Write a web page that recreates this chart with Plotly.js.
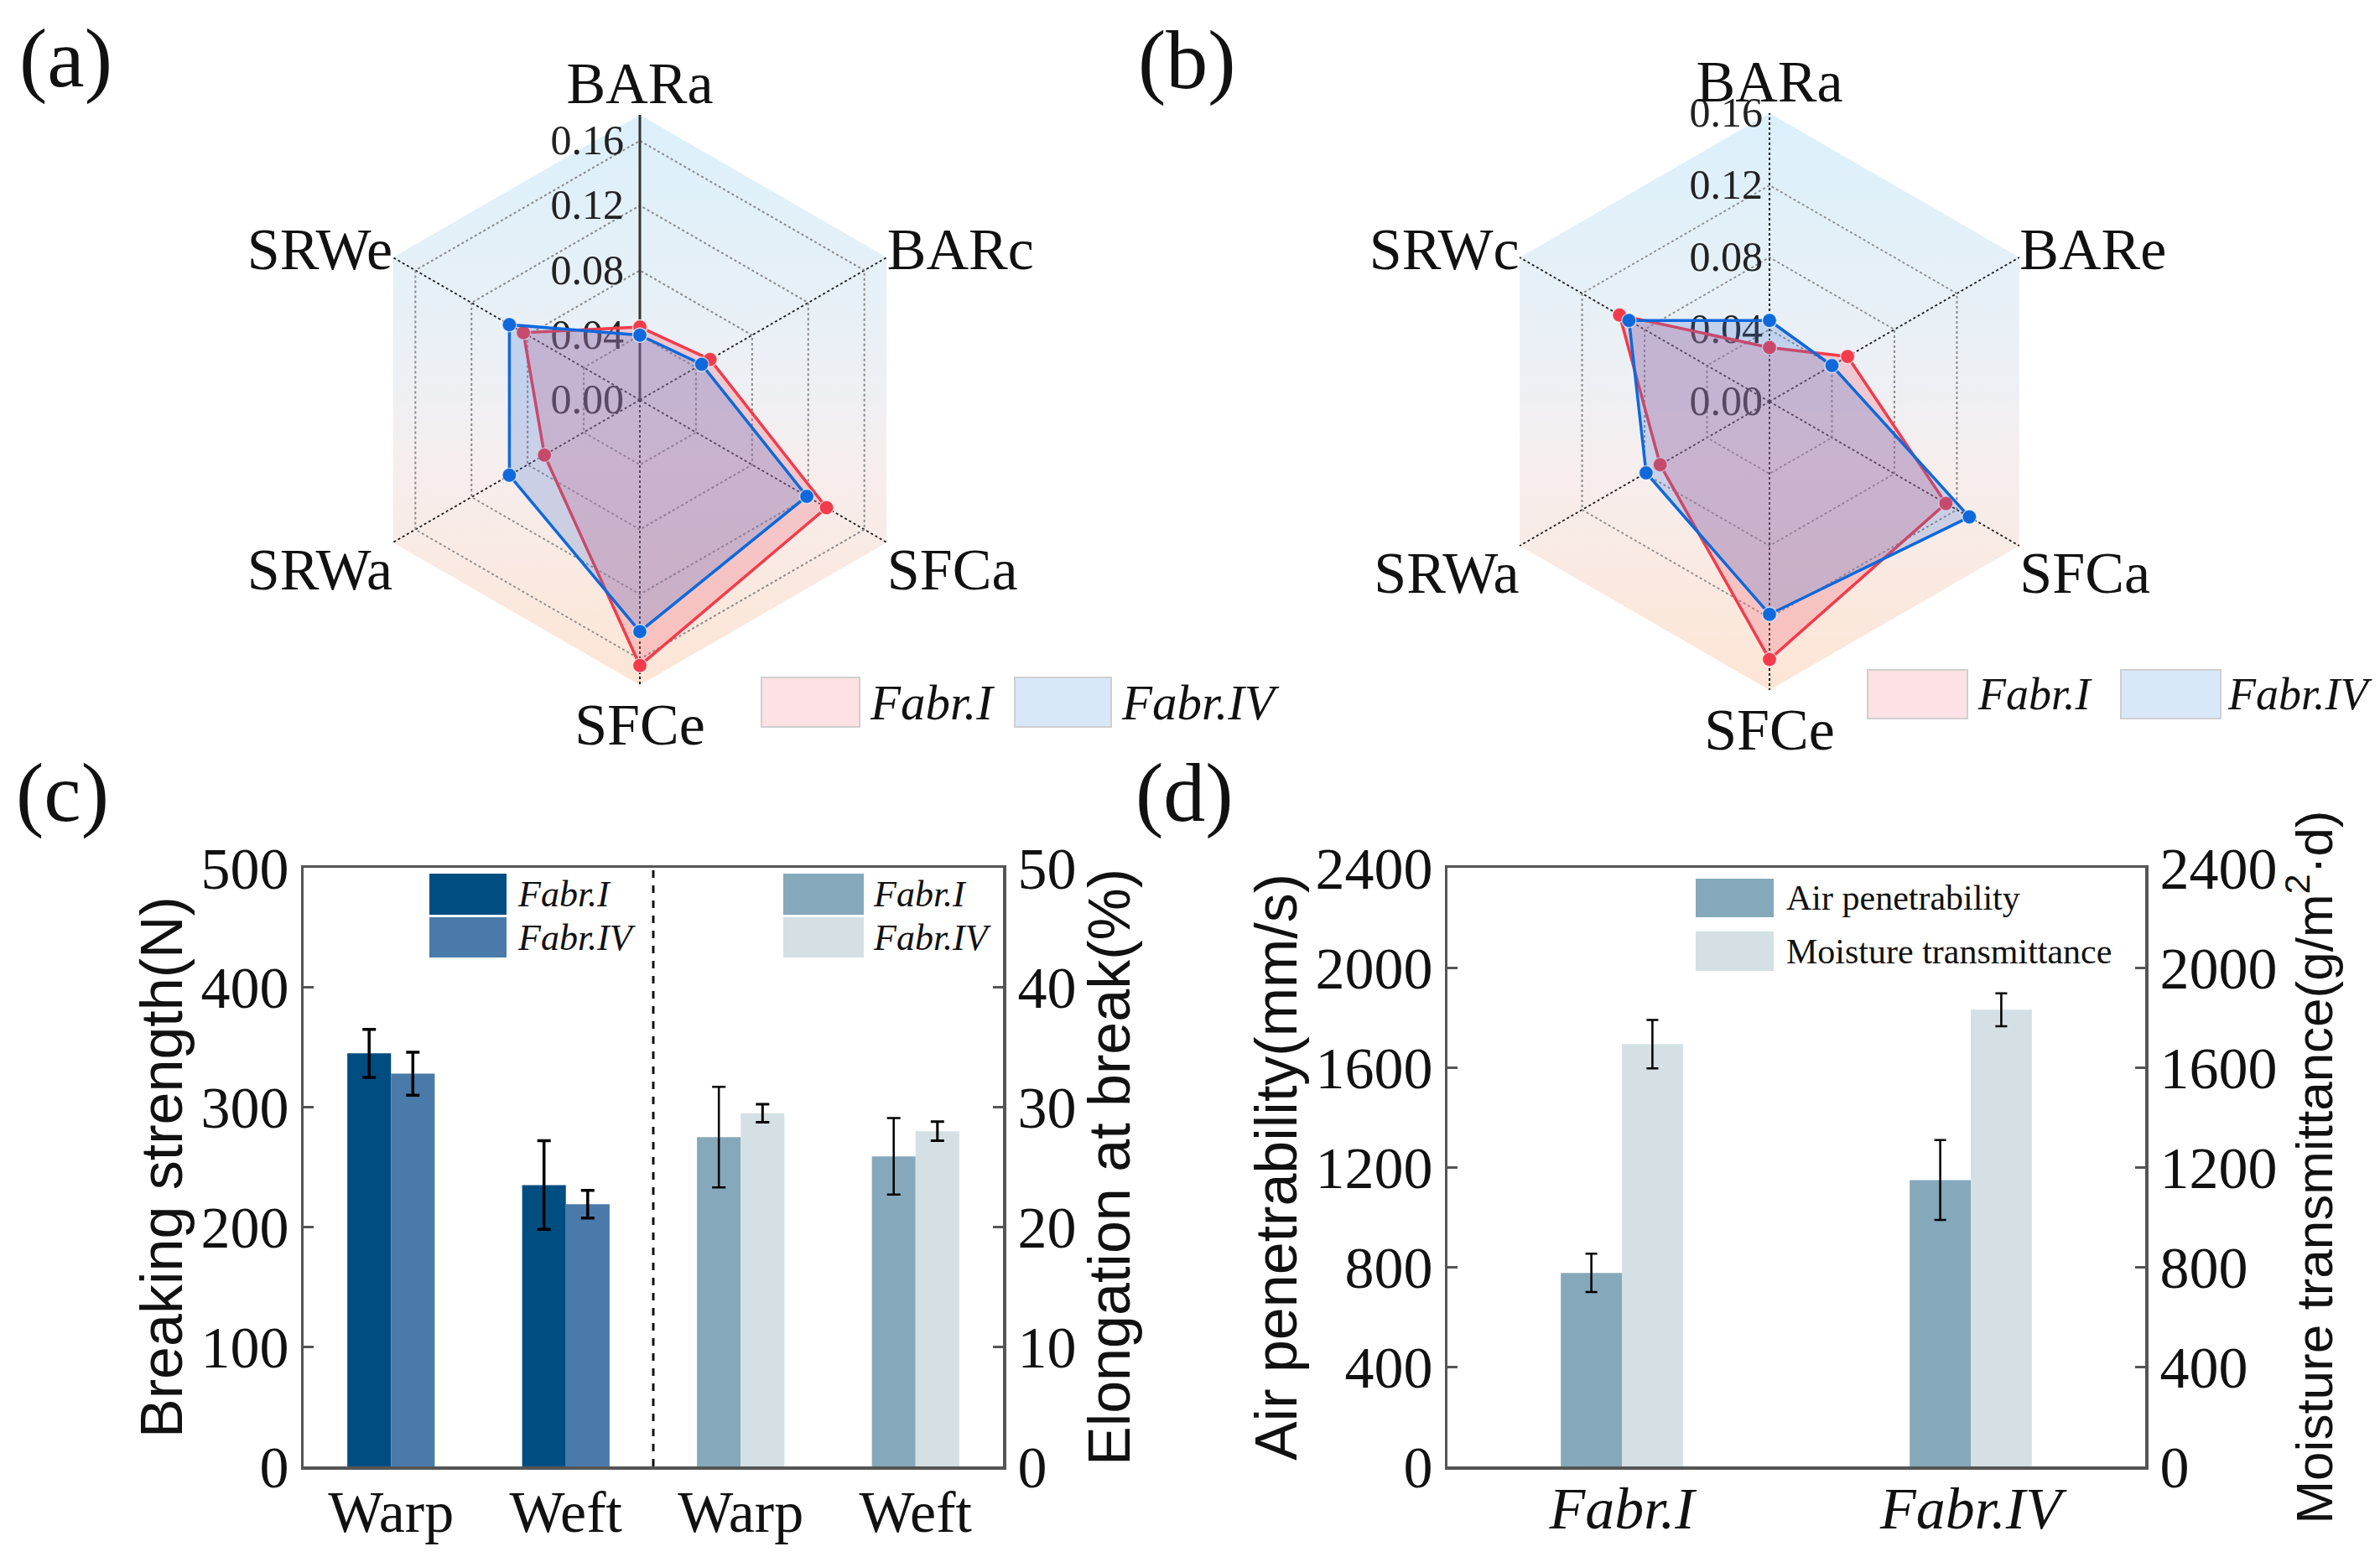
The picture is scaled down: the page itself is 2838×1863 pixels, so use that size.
<!DOCTYPE html>
<html>
<head>
<meta charset="utf-8">
<script src="https://cdn.plot.ly/plotly-3.0.1.min.js"></script>
<style>html,body{margin:0;padding:0;background:#fff;}</style>
</head>
<body>
<div id="chart" style="width:2838px;height:1863px;"></div>
<script>
// ---------------- DATA ----------------
// (a) radar
const radarACats = ['BARa', 'BARc', 'SFCa', 'SFCe', 'SRWa', 'SRWe'];
const radarAFabrI = [0.045, 0.050, 0.133, 0.164, 0.068, 0.083];
const radarAFabrIV = [0.040, 0.044, 0.119, 0.143, 0.093, 0.093];
// (b) radar
const radarBCats = ['BARa', 'BARe', 'SFCa', 'SFCe', 'SRWa', 'SRWc'];
const radarBFabrI = [0.030, 0.050, 0.113, 0.143, 0.070, 0.096];
const radarBFabrIV = [0.045, 0.040, 0.128, 0.118, 0.079, 0.090];
const radarTicks = [0, 0.04, 0.08, 0.12, 0.16];
const seriesNames = ['Fabr.I', 'Fabr.IV'];

// (c) breaking strength / elongation
const strengthCats = ['Warp', 'Weft'];
const elongCats = ['Warp', 'Weft'];
const strengthFabrI = [345, 235];
const strengthFabrIErr = [20, 37];
const strengthFabrIV = [328, 219];
const strengthFabrIVErr = [18, 11.5];
const elongFabrI = [27.5, 25.9];
const elongFabrIErr = [4.2, 3.2];
const elongFabrIV = [29.5, 28.0];
const elongFabrIVErr = [0.75, 0.8];
const strengthTicks = [0, 100, 200, 300, 400, 500];
const elongTicks = [0, 10, 20, 30, 40, 50];

// (d) air / moisture
const fabrCats = ['Fabr.I', 'Fabr.IV'];
const airVals = [776, 1148];
const airErr = [77, 160];
const moistVals = [1693, 1831];
const moistErr = [97, 66];
const airTicks = [0, 400, 800, 1200, 1600, 2000, 2400];
const legendD = ['Air penetrability', 'Moisture transmittance'];

// ---------------- LAYOUT HELPERS ----------------
const W = 2838, H = 1863;
const fx = x => x / W;
const fy = y => 1 - y / H;
const SERIF = 'Liberation Serif, Times New Roman, serif';
const SANS = 'Liberation Sans, Arial, sans-serif';

const colRed = '#f23b4b', colBlue = '#0f68dc';
const fillRed = 'rgba(238,110,130,0.30)', fillBlue = 'rgba(70,120,210,0.25)';
const cNavy = '#004d82', cMid = '#4a7aa9', cSteel = '#86a8bb', cPale = '#d4e0e4';

// radar geometry (pixel centre + outer radius)
const polA = {cx: 763, cy: 477, R: 340, max: 0.176};
const polB = {cx: 2110, cy: 479, R: 344, max: 0.16};

function polarDomain(p) {
  return {x: [fx(p.cx - p.R), fx(p.cx + p.R)], y: [fy(p.cy + p.R), fy(p.cy - p.R)]};
}

function closed(arr) { return arr.concat([arr[0]]); }

function radarTrace(cats, vals, name, color, fill, subplot) {
  return {
    type: 'scatterpolar', subplot: subplot, name: name,
    r: closed(vals), theta: closed(cats),
    mode: 'lines+markers', fill: 'toself', fillcolor: fill,
    line: {color: color, width: 3.5},
    marker: {color: color, size: 17, line: {color: 'rgba(255,255,255,0.6)', width: 1.5}},
    showlegend: false, hoverinfo: 'skip'
  };
}

function polarLayout(p, cats, showAxisLine) {
  return {
    domain: polarDomain(p),
    bgcolor: 'rgba(0,0,0,0)',
    gridshape: 'linear',
    angularaxis: {
      type: 'category', categoryarray: cats, direction: 'clockwise', rotation: 90,
      showline: false, gridcolor: '#1a1a1a', griddash: 'dot', gridwidth: 2,
      ticks: '', tickfont: {family: SERIF, size: 70, color: '#111'}
    },
    radialaxis: {
      range: [0, p.max], tickvals: radarTicks, tickformat: '.2f',
      angle: 90, side: 'counterclockwise', tickangle: 90,
      showline: showAxisLine, linecolor: '#333', linewidth: 3,
      gridcolor: '#8a8a8a', griddash: 'dot', gridwidth: 2,
      ticks: '', layer: 'below traces',
      tickfont: {family: SERIF, size: 50, color: '#222'}
    }
  };
}

const gradSvg = "<svg xmlns='http://www.w3.org/2000/svg' viewBox='-0.8660254 -1 1.7320508 2' preserveAspectRatio='none'>" +
  "<defs><linearGradient id='g' x1='0' y1='0' x2='0' y2='1'>" +
  "<stop offset='0' stop-color='#dbf0fb'/><stop offset='0.45' stop-color='#ecf0f5'/>" +
  "<stop offset='0.6' stop-color='#f6eeee'/><stop offset='1' stop-color='#fde5d5'/></linearGradient></defs>" +
  "<polygon points='0,-1 0.8660254,-0.5 0.8660254,0.5 0,1 -0.8660254,0.5 -0.8660254,-0.5' fill='url(#g)'/></svg>";
const gradSrc = 'data:image/svg+xml;charset=utf-8,' + encodeURIComponent(gradSvg);

function hexImage(p) {
  return {
    source: gradSrc, xref: 'paper', yref: 'paper',
    x: fx(p.cx), y: fy(p.cy), sizex: 1.7320508 * p.R / W, sizey: 2 * p.R / H,
    xanchor: 'center', yanchor: 'middle', sizing: 'stretch', layer: 'below'
  };
}

// ---------------- TRACES ----------------
const traces = [];
traces.push(radarTrace(radarACats, radarAFabrI, seriesNames[0], colRed, fillRed, 'polar'));
traces.push(radarTrace(radarACats, radarAFabrIV, seriesNames[1], colBlue, fillBlue, 'polar'));
traces.push(radarTrace(radarBCats, radarBFabrI, seriesNames[0], colRed, fillRed, 'polar2'));
traces.push(radarTrace(radarBCats, radarBFabrIV, seriesNames[1], colBlue, fillBlue, 'polar2'));

const posLeft = strengthCats.map((_, i) => i);
const posRight = elongCats.map((_, i) => i + strengthCats.length);
const barW = 0.25;

function barTrace(x, y, err, color, xa, ya, offset, width, errW, errT) {
  return {
    type: 'bar', x: x, y: y, xaxis: xa, yaxis: ya,
    width: width, offset: offset, marker: {color: color, line: {width: 0}},
    error_y: {type: 'data', array: err, visible: true, color: '#000', thickness: errT, width: errW},
    showlegend: false, hoverinfo: 'skip'
  };
}
traces.push(barTrace(posLeft, strengthFabrI, strengthFabrIErr, cNavy, 'x', 'y', -barW, barW, 8, 3.5));
traces.push(barTrace(posLeft, strengthFabrIV, strengthFabrIVErr, cMid, 'x', 'y', 0, barW, 8, 3.5));
traces.push(barTrace(posRight, elongFabrI, elongFabrIErr, cSteel, 'x', 'y2', -barW, barW, 8, 2.5));
traces.push(barTrace(posRight, elongFabrIV, elongFabrIVErr, cPale, 'x', 'y2', 0, barW, 8, 3));

const barW2 = 0.175;
traces.push(barTrace(fabrCats, airVals, airErr, cSteel, 'x2', 'y3', -barW2, barW2, 7, 2.5));
traces.push(barTrace(fabrCats, moistVals, moistErr, cPale, 'x2', 'y4', 0, barW2, 7, 2.5));

// ---------------- AXES ----------------
const frameCol = '#555';
const yDom = [fy(1749), fy(1035)];
function yAxis(range, ticks, title, side, standoff, titleSize, extra) {
  return Object.assign({
    domain: yDom, range: range, tickvals: ticks, side: side,
    ticks: 'inside', ticklen: 12, tickwidth: 3, tickcolor: frameCol,
    showline: true, linecolor: frameCol, linewidth: 3.5,
    showgrid: false, zeroline: false, fixedrange: true,
    tickfont: {family: SERIF, size: 70, color: '#111'},
    title: {text: title, font: {family: SANS, size: titleSize, color: '#111'}, standoff: standoff}
  }, extra || {});
}

// ---------------- LEGENDS (shapes + text) ----------------
const shapes = [];
const annotations = [];
function legendItem(x0, x1, y0, y1, fill, border, text, tx, fontSize, italic) {
  shapes.push({type: 'rect', xref: 'paper', yref: 'paper', x0: fx(x0), x1: fx(x1), y0: fy(y1), y1: fy(y0),
    fillcolor: fill, line: {color: border, width: border === 'rgba(0,0,0,0)' ? 0 : 2}, layer: 'above'});
  annotations.push({xref: 'paper', yref: 'paper', x: fx(tx), y: fy((y0 + y1) / 2), text: text,
    xanchor: 'left', yanchor: 'middle', showarrow: false,
    font: {family: SERIF, size: fontSize, color: '#111', style: italic ? 'italic' : 'normal'}});
}
// (a)
legendItem(908, 1025, 808, 867, '#fde1e4', '#cfcfcf', seriesNames[0], 1035, 59, true);
legendItem(1210, 1325, 808, 867, '#d8e8f8', '#cfcfcf', seriesNames[1], 1335, 59, true);
// (b)
legendItem(2227, 2346, 799, 857, '#fde1e4', '#cfcfcf', seriesNames[0], 2356, 54, true);
legendItem(2529, 2648, 799, 857, '#d8e8f8', '#cfcfcf', seriesNames[1], 2654, 54, true);
// (c)
legendItem(512, 604, 1042, 1091, cNavy, 'rgba(0,0,0,0)', seriesNames[0], 615, 44, true);
legendItem(512, 604, 1094, 1142, cMid, 'rgba(0,0,0,0)', seriesNames[1], 615, 44, true);
legendItem(934, 1030, 1042, 1091, cSteel, 'rgba(0,0,0,0)', seriesNames[0], 1039, 44, true);
legendItem(934, 1030, 1094, 1142, cPale, 'rgba(0,0,0,0)', seriesNames[1], 1039, 44, true);
// (d)
legendItem(2022, 2115, 1048, 1094, cSteel, 'rgba(0,0,0,0)', legendD[0], 2128, 42, false);
legendItem(2022, 2115, 1111, 1158, cPale, 'rgba(0,0,0,0)', legendD[1], 2128, 42, false);

// dashed separator between the strength and elongation groups
shapes.push({type: 'line', xref: 'x', yref: 'y domain', x0: strengthCats.length - 0.5, x1: strengthCats.length - 0.5,
  y0: 0, y1: 1, line: {color: '#111', width: 3, dash: 'dash'}, layer: 'above'});

// panel labels
[['(a)', 78, 70], ['(b)', 1415, 72], ['(c)', 74, 945], ['(d)', 1412, 945]].forEach(l => {
  annotations.push({xref: 'paper', yref: 'paper', x: fx(l[1]), y: fy(l[2]), text: l[0], showarrow: false,
    xanchor: 'center', yanchor: 'middle', font: {family: SERIF, size: 100, color: '#111'}});
});

const layout = {
  width: W, height: H, margin: {l: 0, r: 0, t: 0, b: 0},
  paper_bgcolor: '#fff', plot_bgcolor: 'rgba(0,0,0,0)',
  showlegend: false, barmode: 'overlay',
  polar: polarLayout(polA, radarACats, true),
  polar2: polarLayout(polB, radarBCats, false),
  images: [hexImage(polA), hexImage(polB)],
  xaxis: {
    domain: [fx(362), fx(1196)], anchor: 'y', range: [-0.5, strengthCats.length + elongCats.length - 0.5],
    tickvals: posLeft.concat(posRight), ticktext: strengthCats.concat(elongCats),
    ticks: '', showline: true, mirror: true, linecolor: frameCol, linewidth: 3.5,
    showgrid: false, zeroline: false, ticklabelstandoff: -10,
    tickfont: {family: SERIF, size: 70, color: '#111'}
  },
  yaxis: yAxis([0, 500], strengthTicks, 'Breaking strength(N)', 'left', 0, 70, {anchor: 'x'}),
  yaxis2: yAxis([0, 50], elongTicks, 'Elongation at break(%)', 'right', 16, 70, {anchor: 'x', overlaying: 'y'}),
  xaxis2: {
    domain: [fx(1726), fx(2558)], anchor: 'y3', type: 'category', range: [-0.5, fabrCats.length - 0.5],
    ticks: '', showline: true, mirror: true, linecolor: frameCol, linewidth: 3.5,
    showgrid: false, zeroline: false, ticklabelstandoff: -14,
    tickfont: {family: SERIF, size: 70, color: '#111', style: 'italic'}
  },
  yaxis3: yAxis([0, 2400], airTicks, 'Air penetrability(mm/s)', 'left', 0, 70, {anchor: 'x2'}),
  yaxis4: yAxis([0, 2400], airTicks, 'Moisture transmittance(g/m<sup>2</sup>·d)', 'right', 8, 62, {anchor: 'x2', overlaying: 'y3'}),
  shapes: shapes,
  annotations: annotations
};

Plotly.newPlot('chart', traces, layout, {staticPlot: true, displayModeBar: false});
</script>
</body>
</html>
